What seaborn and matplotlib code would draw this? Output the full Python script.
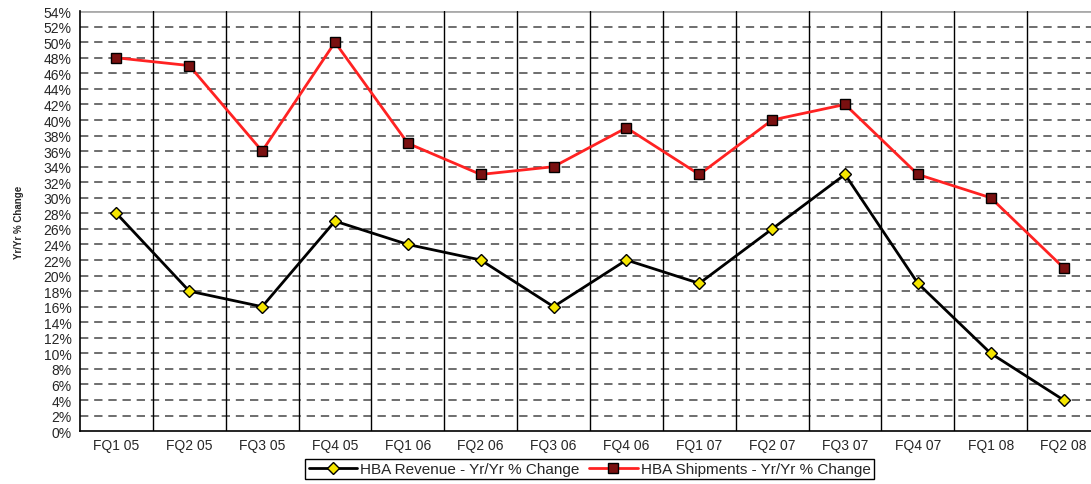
import numpy as np
import pandas as pd
import seaborn as sns
import matplotlib.pyplot as plt

quarters = ["FQ1 05", "FQ2 05", "FQ3 05", "FQ4 05", "FQ1 06", "FQ2 06", "FQ3 06",
            "FQ4 06", "FQ1 07", "FQ2 07", "FQ3 07", "FQ4 07", "FQ1 08", "FQ2 08"]
revenue = [28, 18, 16, 27, 24, 22, 16, 22, 19, 26, 33, 19, 10, 4]
shipments = [48, 47, 36, 50, 37, 33, 34, 39, 33, 40, 42, 33, 30, 21]
rev_label = "HBA Revenue - Yr/Yr % Change"
ship_label = "HBA Shipments - Yr/Yr % Change"

df = pd.DataFrame({
    "Quarter": quarters * 2,
    "Change": revenue + shipments,
    "Series": [rev_label] * len(quarters) + [ship_label] * len(quarters),
})

sns.set_style("white")
plt.rcParams["font.family"] = ["Liberation Sans", "DejaVu Sans"]

fig = plt.figure(figsize=(10.91, 4.85), dpi=100)
ax = fig.add_axes([0.0733, 0.109, 0.935, 0.866])

sns.lineplot(data=df, x="Quarter", y="Change", hue="Series", style="Series",
             palette={rev_label: "black", ship_label: "#ff2222"},
             markers={rev_label: "D", ship_label: "s"}, dashes=False,
             sort=False, linewidth=2, markersize=6.5, markeredgecolor="black",
             markeredgewidth=1, ax=ax, legend=True)

faces = ["#f5e600", "#7a1010"]
for line, face in zip(ax.lines[:2], faces):
    line.set_markerfacecolor(face)

ax.set_xlim(-0.5, len(quarters) - 0.5)
ax.set_ylim(0, 54)
ax.set_yticks(np.arange(0, 55, 2))
ax.set_yticklabels([f"{v}%" for v in range(0, 55, 2)], fontsize=10)
ax.set_xticks(range(len(quarters)))
ax.set_xticklabels(quarters, fontsize=10)
ax.tick_params(axis="x", which="major", length=0, pad=5)
ax.set_xticks(np.arange(-0.5, len(quarters), 1), minor=True)
ax.tick_params(axis="x", which="minor", length=5, width=1, color="black", direction="out")
ax.tick_params(axis="y", length=4, width=1, color="black", direction="out", pad=2)

for y in range(2, 54, 2):
    ax.axhline(y, color="#555555", linewidth=1.2, linestyle=(0, (5, 3.5)), zorder=0)
ax.axhline(54, color="#aaaaaa", linewidth=2, zorder=0)
for x in np.arange(0.5, len(quarters) - 0.5, 1):
    ax.axvline(x, color="black", linewidth=1, zorder=0)

for s in ["top", "right"]:
    ax.spines[s].set_visible(False)
for s in ["left", "bottom"]:
    ax.spines[s].set_color("black")
    ax.spines[s].set_linewidth(1.2)

ax.set_xlabel("")
ax.set_ylabel("Yr/Yr % Change", fontsize=7, fontweight="bold", labelpad=14)

handles, labels = ax.get_legend_handles_labels()
for h, face in zip(handles, faces):
    h.set_markerfacecolor(face)
    h.set_markeredgecolor("black")
ax.legend(handles, labels, loc="center", bbox_to_anchor=(0.5405, 0.031),
          bbox_transform=fig.transFigure, ncol=2, fontsize=11, frameon=True,
          fancybox=False, edgecolor="black", handlelength=3.2, handletextpad=0.2,
          columnspacing=0.6, borderpad=0.2, framealpha=1)

fig.savefig("out.png", dpi=100)
